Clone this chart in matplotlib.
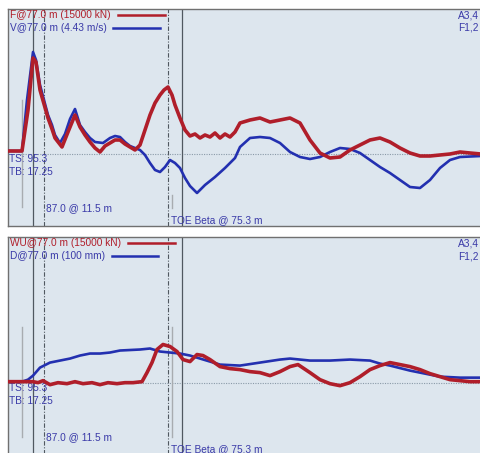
import numpy as np
import matplotlib.pyplot as plt

plt.rcParams['font.family'] = ['Liberation Sans', 'DejaVu Sans']

# sample positions (ms scale of the record) and signal levels
t_v = [8, 22, 27, 33, 36, 40, 44, 48, 52, 55, 60, 65, 70, 75, 80, 85, 90, 95, 103,
       110, 115, 120, 125, 130, 135, 140, 145, 150, 155, 160, 165, 170, 175, 180,
       185, 190, 197, 205, 215, 225, 235, 240, 250, 260, 270, 280, 290, 300, 310,
       320, 330, 340, 350, 360, 370, 380, 390, 400, 410, 420, 430, 440, 450, 460, 481]
vel = [3, 3, 54, 102, 94, 69, 54, 39, 29, 19, 11, 20, 35, 45, 29, 22, 16, 12, 11,
       16, 18, 17, 12, 8, 6, 4, -1, -9, -16, -18, -13, -6, -9, -14,
       -24, -32, -39, -31, -23, -14, -4, 7, 16, 17, 16, 11, 2, -3, -5,
       -3, 2, 6, 5, 1, -6, -13, -19, -26, -33, -34, -26, -14, -6, -3, -2]

t_f = [8, 22, 28, 33, 36, 40, 44, 48, 52, 55, 62, 68, 75, 80, 85, 90, 95, 100,
       105, 110, 115, 120, 125, 130, 135, 140, 145, 150, 155, 160, 164, 168, 172,
       175, 180, 185, 190, 195, 200, 205, 210, 215, 220, 225, 230, 235, 240, 250,
       260, 270, 280, 290, 300, 310, 320, 330, 340, 350, 360, 370, 380, 390, 400,
       410, 420, 430, 440, 450, 460, 470, 481]
force = [3, 3, 44, 96, 92, 64, 50, 36, 25, 16, 7, 22, 39, 27, 19, 12, 6, 2,
         8, 11, 14, 14, 10, 7, 4, 9, 24, 39, 51, 59, 64, 67, 59,
         49, 36, 24, 18, 20, 16, 19, 17, 21, 16, 20, 17, 22, 31, 34,
         36, 32, 34, 36, 31, 14, 1, -4, -3, 4, 9, 14, 16, 12, 6,
         1, -2, -2, -1, 0, 2, 1, 0]

t_d = [8, 22, 28, 33, 40, 50, 60, 70, 80, 90, 100, 110, 120, 140, 150, 160, 170,
       180, 190, 200, 210, 220, 240, 260, 280, 290, 310, 330, 350, 370, 380, 390,
       410, 430, 440, 460, 481]
disp = [1, 1, 3, 7, 15, 20, 22, 24, 27, 29, 29, 30, 32, 33, 34, 31, 30,
        29, 27, 24, 21, 18, 17, 20, 23, 24, 22, 22, 23, 22, 19, 17,
        12, 8, 6, 5, 5]

t_wu = [8, 22, 33, 38, 43, 50, 58, 67, 75, 83, 92, 100, 108, 117, 125, 133, 142,
        147, 152, 157, 163, 170, 177, 183, 190, 197, 203, 210, 220, 230, 240, 250,
        260, 270, 280, 290, 298, 310, 320, 330, 340, 350, 360, 370, 380, 390, 400,
        410, 420, 430, 440, 450, 460, 470, 481]
wu = [1, 1, 1, 0, 2, -2, 0, -1, 1, -1, 0, -2, 0, -1, 0, 0, 1,
      10, 20, 33, 38, 36, 31, 23, 21, 28, 27, 23, 16, 14, 13, 11,
      10, 7, 11, 16, 18, 10, 3, -1, -3, 0, 6, 13, 17, 20, 18,
      16, 13, 9, 6, 3, 2, 1, 1]

panels = [
    dict(rect=[8/480, 1 - 226/453, 474/480, 217/453], t1=t_f, y1=force, t2=t_v, y2=vel,
         lab1='F@77.0 m (15000 kN)', lab2='V@77.0 m (4.43 m/s)', leg1=(118, 165), leg2=(113, 160),
         gray_top=(54, -53), toe_gray=(-41, -54)),
    dict(rect=[8/480, -2/453, 474/480, 218/453], t1=t_wu, y1=wu, t2=t_d, y2=disp,
         lab1='WU@77.0 m (15000 kN)', lab2='D@77.0 m (100 mm)', leg1=(128, 175), leg2=(112, 158),
         gray_top=(55, -54), toe_gray=(55, -54)),
]

red = '#b01e2a'
blue = '#2330b0'
txt_blue = '#3a3aa8'
bg = '#dde6ee'

fig = plt.figure(figsize=(4.8, 4.53), dpi=100)
for p in panels:
    ax = fig.add_axes(p['rect'])
    ax.set_facecolor(bg)
    ax.set_xlim(8, 482)
    ax.set_ylim(-72, 145)
    ax.set_xticks([])
    ax.set_yticks([])
    for s in ax.spines.values():
        s.set_color('#707070')
        s.set_linewidth(1.0)

    ax.axhline(0, color='#8a9aa8', lw=0.8, ls=(0, (1, 1.2)))
    ax.axvline(33, color='#505860', lw=0.9)
    ax.axvline(44, color='#505860', lw=0.8, ls=(0, (4, 1.5, 1, 1.5)))
    ax.axvline(168, color='#505860', lw=0.8, ls=(0, (4, 1.5, 1, 1.5)))
    ax.axvline(182, color='#505860', lw=0.9)
    ax.plot([22, 22], p['gray_top'], color='#a8acb0', lw=1.0)
    ax.plot([172, 172], p['toe_gray'], color='#a8acb0', lw=1.0)

    ax.plot(p['t2'], p['y2'], color=blue, lw=1.9, zorder=3)
    # measured force carries high-frequency ripple: drawn as a wider trace
    ax.plot(p['t1'], p['y1'], color=red, lw=2.6, zorder=4)

    ax.text(10, 139, p['lab1'], color=red, fontsize=7.3, va='center')
    ax.text(10, 126, p['lab2'], color=txt_blue, fontsize=7.3, va='center')
    ax.plot(p['leg1'], [139, 139], color=red, lw=1.8)
    ax.plot(p['leg2'], [126, 126], color=blue, lw=1.8)
    ax.text(458, 139, 'A3,4', color=txt_blue, fontsize=7.3, va='center')
    ax.text(458, 126, 'F1,2', color=txt_blue, fontsize=7.3, va='center')
    ax.text(9, -5, 'TS: 95.3', color=txt_blue, fontsize=7.3, va='center')
    ax.text(9, -18, 'TB: 17.25', color=txt_blue, fontsize=7.3, va='center')
    ax.text(46, -54, '87.0 @ 11.5 m', color=txt_blue, fontsize=7.3, va='center')
    ax.text(171, -66, 'TOE Beta @ 75.3 m', color=txt_blue, fontsize=7.3, va='center')

fig.savefig('out.png', dpi=100)
